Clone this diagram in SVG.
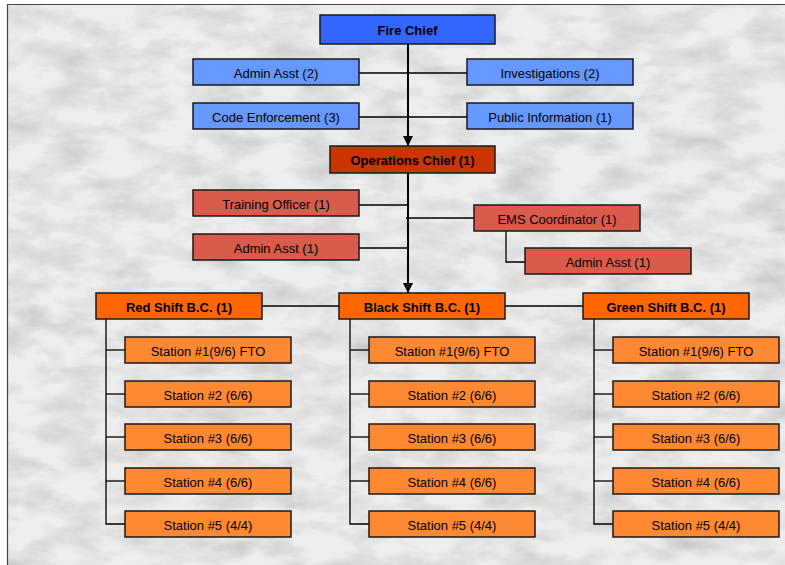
<svg xmlns="http://www.w3.org/2000/svg" width="785" height="565" viewBox="0 0 785 565">
<defs>
<filter id="marble" x="0" y="0" width="100%" height="100%">
<feTurbulence type="fractalNoise" baseFrequency="0.02 0.045" numOctaves="4" seed="7" result="n"/>
<feColorMatrix in="n" type="matrix" values="0 0 0 0 0  0 0 0 0 0  0 0 0 0 0  -0.9 -0.9 0 0 1.05" result="a"/>
<feFlood flood-color="#7a7a7a" result="c"/>
<feComposite in="c" in2="a" operator="in" result="d"/>
<feComponentTransfer in="d"><feFuncA type="linear" slope="0.45"/></feComponentTransfer>
</filter>
<marker id="arr" viewBox="0 0 10 10" refX="10" refY="5" markerWidth="10" markerHeight="10" markerUnits="userSpaceOnUse" orient="auto">
<path d="M0,0 L10,5 L0,10 z" fill="#000"/>
</marker>
</defs>
<style>
.box{stroke:#1a1a1a;stroke-width:1.5}
.t{font-family:"Liberation Sans",Arial,sans-serif;font-size:13px;fill:#000;text-anchor:middle;dominant-baseline:central}
.b{font-weight:bold}
.l{stroke:#000;stroke-width:1.3;fill:none}
.m{stroke:#000;stroke-width:2;fill:none}
.c1{fill:#3366ff}.c2{fill:#6699ff}.c3{fill:#cc3300}.c4{fill:#d95b4c}.c5{fill:#ff6600}.c6{fill:#ff8833}
</style>
<rect x="0" y="0" width="785" height="565" fill="#ffffff"/>
<rect x="7" y="4" width="778" height="561" fill="#ededed"/>
<rect x="7" y="4" width="778" height="561" fill="#ededed" filter="url(#marble)"/>
<path d="M7.5,565 V4.5 H785" stroke="#444" stroke-width="1.2" fill="none"/>

<g id="connectors">
<line class="m" x1="408" y1="44" x2="408" y2="146" marker-end="url(#arr)"/>
<line class="l" x1="359" y1="73" x2="467" y2="73"/>
<line class="l" x1="359" y1="117" x2="467" y2="117"/>
<line class="m" x1="408" y1="173" x2="408" y2="293" marker-end="url(#arr)"/>
<line class="l" x1="359" y1="205" x2="408" y2="205"/>
<line class="l" x1="406" y1="218" x2="474" y2="218"/>
<line class="l" x1="359" y1="248" x2="408" y2="248"/>
<polyline class="l" points="506,231 506,262 525,262"/>
<line class="l" x1="262" y1="306" x2="339" y2="306"/>
<line class="l" x1="505" y1="306" x2="583" y2="306"/>
<polyline class="l" points="106,319 106,524 125,524"/>
<line class="l" x1="106" y1="350" x2="125" y2="350"/>
<line class="l" x1="106" y1="394" x2="125" y2="394"/>
<line class="l" x1="106" y1="437" x2="125" y2="437"/>
<line class="l" x1="106" y1="481" x2="125" y2="481"/>
<polyline class="l" points="350,319 350,524 369,524"/>
<line class="l" x1="350" y1="350" x2="369" y2="350"/>
<line class="l" x1="350" y1="394" x2="369" y2="394"/>
<line class="l" x1="350" y1="437" x2="369" y2="437"/>
<line class="l" x1="350" y1="481" x2="369" y2="481"/>
<polyline class="l" points="594,319 594,524 613,524"/>
<line class="l" x1="594" y1="350" x2="613" y2="350"/>
<line class="l" x1="594" y1="394" x2="613" y2="394"/>
<line class="l" x1="594" y1="437" x2="613" y2="437"/>
<line class="l" x1="594" y1="481" x2="613" y2="481"/>
</g>

<g id="fire-chief"><rect class="box c1" x="320" y="15" width="175" height="29"/><text class="t b" x="407.5" y="30">Fire Chief</text></g>
<g id="admin-asst-2"><rect class="box c2" x="193" y="59" width="166" height="26"/><text class="t" x="276" y="73">Admin Asst (2)</text></g>
<g id="investigations"><rect class="box c2" x="467" y="59" width="166" height="26"/><text class="t" x="550" y="73">Investigations (2)</text></g>
<g id="code-enforcement"><rect class="box c2" x="193" y="103" width="166" height="26"/><text class="t" x="276" y="117">Code Enforcement (3)</text></g>
<g id="public-information"><rect class="box c2" x="467" y="103" width="166" height="26"/><text class="t" x="550" y="117">Public Information (1)</text></g>

<g id="operations-chief"><rect class="box c3" x="330" y="146" width="165" height="27"/><text class="t b" x="412.5" y="160">Operations Chief (1)</text></g>
<g id="training-officer"><rect class="box c4" x="193" y="190" width="166" height="26"/><text class="t" x="276" y="204">Training Officer (1)</text></g>
<g id="ems-coordinator"><rect class="box c4" x="474" y="205" width="166" height="26"/><text class="t" x="557" y="219">EMS Coordinator (1)</text></g>
<g id="admin-asst-ops"><rect class="box c4" x="193" y="234" width="166" height="26"/><text class="t" x="276" y="248">Admin Asst (1)</text></g>
<g id="admin-asst-ems"><rect class="box c4" x="525" y="248" width="166" height="26"/><text class="t" x="608" y="262">Admin Asst (1)</text></g>

<g id="red-shift"><rect class="box c5" x="96" y="293" width="166" height="26"/><text class="t b" x="179" y="307">Red Shift B.C. (1)</text></g>
<g id="black-shift"><rect class="box c5" x="339" y="293" width="166" height="26"/><text class="t b" x="422" y="307">Black Shift B.C. (1)</text></g>
<g id="green-shift"><rect class="box c5" x="583" y="293" width="166" height="26"/><text class="t b" x="666" y="307">Green Shift B.C. (1)</text></g>

<g id="red-st1"><rect class="box c6" x="125" y="337" width="166" height="26"/><text class="t" x="208" y="351">Station #1(9/6) FTO</text></g>
<g id="red-st2"><rect class="box c6" x="125" y="381" width="166" height="26"/><text class="t" x="208" y="395">Station #2 (6/6)</text></g>
<g id="red-st3"><rect class="box c6" x="125" y="424" width="166" height="26"/><text class="t" x="208" y="438">Station #3 (6/6)</text></g>
<g id="red-st4"><rect class="box c6" x="125" y="468" width="166" height="26"/><text class="t" x="208" y="482">Station #4 (6/6)</text></g>
<g id="red-st5"><rect class="box c6" x="125" y="511" width="166" height="26"/><text class="t" x="208" y="525">Station #5 (4/4)</text></g>

<g id="black-st1"><rect class="box c6" x="369" y="337" width="166" height="26"/><text class="t" x="452" y="351">Station #1(9/6) FTO</text></g>
<g id="black-st2"><rect class="box c6" x="369" y="381" width="166" height="26"/><text class="t" x="452" y="395">Station #2 (6/6)</text></g>
<g id="black-st3"><rect class="box c6" x="369" y="424" width="166" height="26"/><text class="t" x="452" y="438">Station #3 (6/6)</text></g>
<g id="black-st4"><rect class="box c6" x="369" y="468" width="166" height="26"/><text class="t" x="452" y="482">Station #4 (6/6)</text></g>
<g id="black-st5"><rect class="box c6" x="369" y="511" width="166" height="26"/><text class="t" x="452" y="525">Station #5 (4/4)</text></g>

<g id="green-st1"><rect class="box c6" x="613" y="337" width="166" height="26"/><text class="t" x="696" y="351">Station #1(9/6) FTO</text></g>
<g id="green-st2"><rect class="box c6" x="613" y="381" width="166" height="26"/><text class="t" x="696" y="395">Station #2 (6/6)</text></g>
<g id="green-st3"><rect class="box c6" x="613" y="424" width="166" height="26"/><text class="t" x="696" y="438">Station #3 (6/6)</text></g>
<g id="green-st4"><rect class="box c6" x="613" y="468" width="166" height="26"/><text class="t" x="696" y="482">Station #4 (6/6)</text></g>
<g id="green-st5"><rect class="box c6" x="613" y="511" width="166" height="26"/><text class="t" x="696" y="525">Station #5 (4/4)</text></g>
</svg>
